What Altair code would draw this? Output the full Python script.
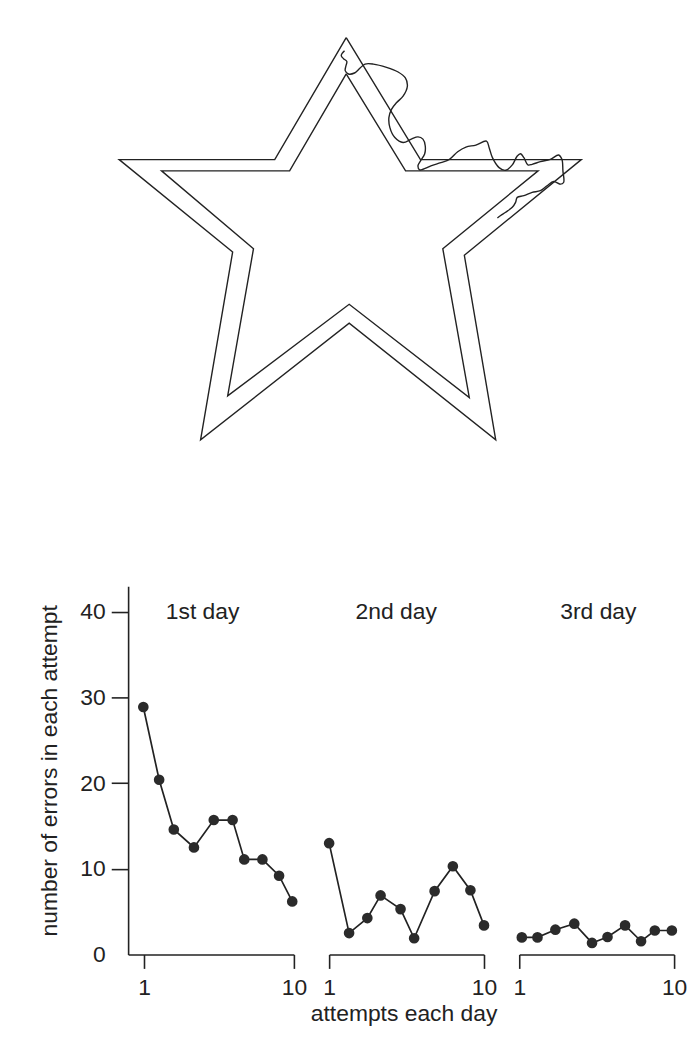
import altair as alt
import pandas as pd

# ---- star outline (drawing units) ----
outer_x = [347.7, 422.5, 584.5, 466.7, 498.3, 350.7, 201.0, 233.3, 119.0, 275.7, 347.7]
outer_y = [34.0, 157.0, 157.0, 253.3, 439.3, 321.7, 439.3, 250.0, 157.0, 157.0, 34.0]
inner_x = [347.7, 407.5, 541.0, 445.0, 471.7, 350.7, 228.3, 254.3, 161.7, 290.7, 347.7]
inner_y = [70.5, 168.3, 168.3, 246.7, 396.7, 302.7, 395.0, 246.7, 168.3, 168.3, 70.5]

# ---- mirror-drawing trace ----
trace_x = [346.0, 342.7, 345.0, 348.3, 347.3, 346.7, 350.0, 356.0, 361.7, 366.7, 375.0,
           388.3, 400.0, 407.3, 409.3, 405.0, 398.3, 393.3, 390.7, 391.7, 396.7, 405.0,
           413.3, 420.0, 425.0, 427.3, 426.7, 422.7, 420.0, 421.7, 425.0, 433.0, 443.0,
           451.7, 460.0, 468.3, 478.3, 489.0, 491.7, 495.0, 501.7, 508.3, 515.0, 520.0,
           523.3, 526.7, 530.7, 535.0, 543.3, 553.3, 561.7, 565.0, 566.0, 566.7, 563.3,
           556.7, 550.0, 543.3, 535.0, 526.7, 520.0, 518.3, 515.0, 508.3, 503.3, 500.0]
trace_y = [47.3, 52.0, 55.3, 58.0, 63.0, 67.3, 70.7, 69.7, 64.7, 60.7, 60.7,
           64.0, 68.7, 74.7, 83.0, 93.0, 99.7, 106.3, 114.7, 124.7, 134.7, 139.7,
           136.3, 134.0, 136.3, 143.0, 151.3, 158.0, 163.0, 167.3, 166.7, 163.3, 160.0,
           156.7, 149.0, 144.3, 142.3, 138.3, 145.0, 155.0, 165.0, 167.7, 162.3, 153.3,
           151.0, 155.0, 162.3, 161.7, 159.0, 156.7, 152.3, 156.7, 168.3, 180.0, 181.7,
           179.0, 183.3, 188.3, 190.0, 193.3, 195.0, 200.0, 205.0, 210.0, 213.3, 215.7]

# ---- errors per attempt ----
day1_attempt = [0.96, 1.91, 2.79, 4.0, 5.19, 6.32, 7.02, 8.11, 9.11, 9.9]
day1_errors = [28.9, 20.4, 14.6, 12.5, 15.7, 15.7, 11.1, 11.1, 9.2, 6.2]
day2_attempt = [1.0, 2.16, 3.22, 3.99, 5.15, 5.94, 7.13, 8.19, 9.21, 10.0]
day2_errors = [13.0, 2.5, 4.25, 6.9, 5.3, 1.9, 7.4, 10.3, 7.5, 3.4]
day3_attempt = [1.15, 2.06, 3.1, 4.2, 5.23, 6.13, 7.15, 8.08, 8.88, 9.87]
day3_errors = [2.0, 2.0, 2.9, 3.6, 1.35, 2.05, 3.4, 1.55, 2.8, 2.8]

day_names = ["1st day", "2nd day", "3rd day"]
day_label_at = [4.52, 4.9, 5.6]
y_ticks = [0, 10, 20, 30, 40]
x_ticks = [1, 10]

FONT = "Liberation Sans"
INK = "#222222"
FS = 23

# ---------- star drawing ----------
star_df = pd.DataFrame({
    "x": outer_x + inner_x,
    "y": outer_y + inner_y,
    "i": list(range(len(outer_x))) + list(range(len(inner_x))),
    "shape": ["outer"] * len(outer_x) + ["inner"] * len(inner_x),
})
trace_df = pd.DataFrame({"x": trace_x, "y": trace_y, "i": list(range(len(trace_x)))})

sx = alt.Scale(domain=[128, 678], nice=False, zero=False)
sy = alt.Scale(domain=[20, 570], nice=False, zero=False, reverse=True)

star = alt.Chart(star_df).mark_line(color=INK, strokeWidth=1.4).encode(
    x=alt.X("x:Q", scale=sx, axis=None),
    y=alt.Y("y:Q", scale=sy, axis=None),
    order="i:Q",
    detail="shape:N",
)
trace = alt.Chart(trace_df).mark_line(
    color=INK, strokeWidth=1.4, interpolate="catmull-rom"
).encode(
    x=alt.X("x:Q", scale=sx, axis=None),
    y=alt.Y("y:Q", scale=sy, axis=None),
    order="i:Q",
)
star_chart = alt.layer(star, trace).properties(width=550, height=550)


# ---------- panels ----------
def panel(attempts, errors, name, label_at, xdomain, width, show_y, xtitle):
    df = pd.DataFrame({"attempt": attempts, "errors": errors})
    xs = alt.Scale(domain=xdomain, nice=False, zero=False)
    ys = alt.Scale(domain=[0, 43], nice=False, zero=False)
    xaxis_kw = dict(values=x_ticks, tickSize=14, tickWidth=1.6, domainWidth=1.6,
                    domainColor=INK, tickColor=INK, labelColor=INK,
                    labelFontSize=FS, labelPadding=8, grid=False, labelFlush=False)
    if xtitle:
        xaxis_kw.update(title=xtitle, titleFontSize=FS, titleFontWeight="normal",
                        titleColor=INK, titlePadding=3, titleX=75)
    xaxis = alt.Axis(**xaxis_kw)
    if show_y:
        yaxis = alt.Axis(values=y_ticks, tickSize=17, tickWidth=1.6, domainWidth=1.6,
                         domainColor=INK, tickColor=INK, labelColor=INK,
                         labelFontSize=FS, labelPadding=6, grid=False,
                         tickOpacity={"condition": {"test": "datum.value === 0", "value": 0}, "value": 1},
                         title="number of errors in each attempt", titleFontSize=FS,
                         titleFontWeight="normal", titleColor=INK, titlePadding=19)
        yenc = alt.Y("errors:Q", scale=ys, axis=yaxis)
    else:
        yenc = alt.Y("errors:Q", scale=ys, axis=None)
    xenc = alt.X("attempt:Q", scale=xs, axis=xaxis, title=xtitle if xtitle else None)
    base = alt.Chart(df).encode(x=xenc, y=yenc)
    line = base.mark_line(color=INK, strokeWidth=1.7)
    pts = base.mark_circle(color="#2b2b2b", size=115, opacity=1)
    label = alt.Chart(pd.DataFrame({"name": [name]})).mark_text(
        font=FONT, fontSize=FS, color=INK, align="center", baseline="middle"
    ).encode(x=alt.datum(label_at), y=alt.datum(40), text="name:N")
    return alt.layer(line, pts, label).properties(width=width, height=371)


p1 = panel(day1_attempt, day1_errors, day_names[0], day_label_at[0], [0.047, 10], 167, True, None)
p2 = panel(day2_attempt, day2_errors, day_names[1], day_label_at[1], [1, 10], 156, False, "attempts each day")
p3 = panel(day3_attempt, day3_errors, day_names[2], day_label_at[2], [1, 10], 156, False, None)

panels = alt.hconcat(p1, p2, p3, spacing=35.5, bounds="flush")

chart = alt.vconcat(star_chart, panels, spacing=16.7, bounds="flush").properties(
    padding={"left": 30, "top": 12, "right": 0, "bottom": 5},
    background="white",
).configure_view(stroke=None).configure_axis(
    labelFont=FONT, titleFont=FONT
).configure_text(font=FONT)

chart.save("out.html", embed_options={"renderer": "svg", "actions": False})
